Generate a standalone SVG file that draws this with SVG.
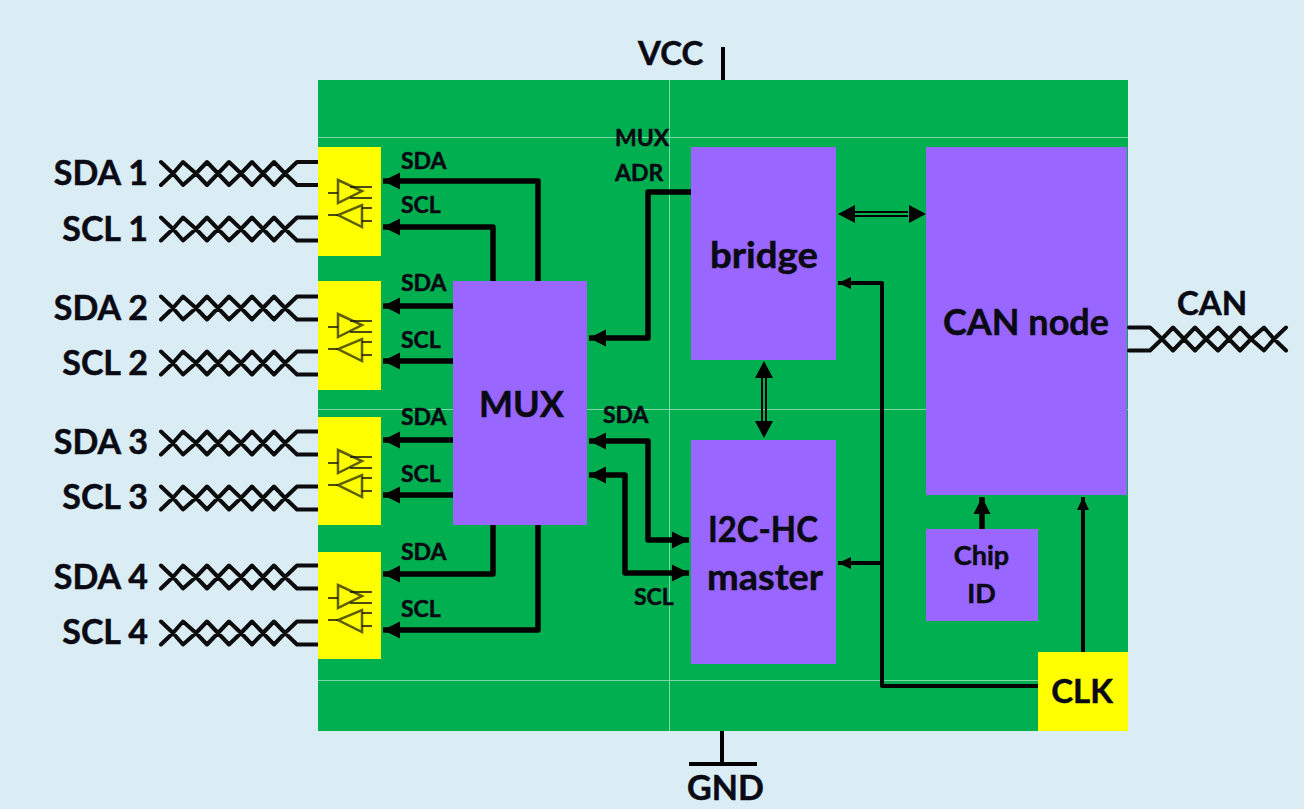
<svg xmlns="http://www.w3.org/2000/svg" xmlns:xlink="http://www.w3.org/1999/xlink" width="1304" height="809" viewBox="0 0 1304 809">
<style>
.t{font-family:"Lato","Liberation Sans",sans-serif;font-weight:700;fill:#0a0a14;stroke:#0a0a14;stroke-width:.5}
.l{font-size:34px;text-anchor:end}
.s{font-size:23px}
.b{font-size:36px;text-anchor:middle}
.w{fill:none;stroke:#000;stroke-width:5.500;stroke-linejoin:round}
.n{fill:none;stroke:#000;stroke-width:4;stroke-linejoin:round}
.tw{fill:none;stroke:#0c0c0c;stroke-width:4;stroke-linecap:round;stroke-linejoin:round}
.ic{fill:none;stroke:#5f5f00;stroke-width:2.500}
.il{fill:none;stroke:#111;stroke-width:1.500}
.p{fill:#9966ff}.y{fill:#ffff00}
.g{stroke:#7fd8a7;stroke-width:1;fill:none}
</style>
<defs>
<marker id="a" markerUnits="userSpaceOnUse" markerWidth="20" markerHeight="18" refX="18" refY="9" orient="auto-start-reverse"><path d="M1 0.500L18 9L1 17.500Z" fill="#000"/></marker>
<marker id="c" markerUnits="userSpaceOnUse" markerWidth="16" markerHeight="14" refX="14" refY="7" orient="auto-start-reverse"><path d="M1 1L14 7L1 13Z" fill="#000"/></marker>
<g id="pair"><path class="tw" d="M161 -11.500L173 0L183 -11.500L196 0L207 -11.500L218 0L229 -11.500L241 0L252 -11.500L263 0L274 -11.500L285 0L297 -11.500H318M161 11.500L173 0L183 11.500L196 0L207 11.500L218 0L229 11.500L241 0L252 11.500L263 0L274 11.500L285 0L297 11.500H318"/></g>
<g id="drv"><path class="ic" d="M338 180L362 191L338 203ZM362 205V227L338 215Z"/><path class="il" d="M328 193H338M350 187H372M350 198H372M328 215H338M362 208H372M362 221H372"/></g>
</defs>
<rect width="1304" height="809" fill="#daedf4"/>
<g id="board"><rect x="318" y="80" width="810" height="651" fill="#00b050"/><path class="g" d="M318 137.500H1128M318 409.500H1128M318 680.500H1128M669.500 80V731"/></g>
<g id="connectors">
<path class="n" stroke-width="5" d="M723 47V80M722 731V764M689 764H757"/>
<path class="w" marker-end="url(#a)" d="M538 281V181H383"/>
<path class="w" marker-end="url(#a)" d="M493 281V227H383"/>
<path class="w" marker-end="url(#a)" d="M453 306H383"/>
<path class="w" marker-end="url(#a)" d="M453 361H383"/>
<path class="w" marker-end="url(#a)" d="M453 440H383"/>
<path class="w" marker-end="url(#a)" d="M453 495H383"/>
<path class="w" marker-end="url(#a)" d="M493 525V574H383"/>
<path class="w" marker-end="url(#a)" d="M538 525V630H383"/>
<path class="w" marker-end="url(#a)" d="M691 192H648V338H589"/>
<path class="w" marker-start="url(#a)" marker-end="url(#a)" d="M589 441H648V540H689"/>
<path class="w" marker-start="url(#a)" marker-end="url(#a)" d="M589 475H625V573H689"/>
<path class="n" marker-end="url(#c)" d="M1038 686H882V283H838"/>
<path class="n" marker-end="url(#c)" d="M882 563H838"/>
<path class="n" marker-end="url(#c)" d="M1083 652V497"/>
<path class="w" marker-end="url(#a)" d="M982 529V497"/>
<path d="M855 212H908M855 216H908M762 378V422M766 378V422" fill="none" stroke="#000" stroke-width="2"/>
<path d="M838 214L855 205V223ZM926 214L909 205V223ZM764 361L755 378H773ZM764 438L755 421H773Z"/>
</g>
<g id="left-wires">
<use xlink:href="#pair" href="#pair" y="173.500"/><use xlink:href="#pair" href="#pair" y="229"/>
<use xlink:href="#pair" href="#pair" y="308"/><use xlink:href="#pair" href="#pair" y="363"/>
<use xlink:href="#pair" href="#pair" y="443"/><use xlink:href="#pair" href="#pair" y="498"/>
<use xlink:href="#pair" href="#pair" y="577"/><use xlink:href="#pair" href="#pair" y="633"/>
</g>
<g id="can-wire"><use xlink:href="#pair" href="#pair" transform="translate(1447 339) scale(-1 1)"/></g>
<g id="io1"><rect class="y" x="318" y="147" width="63" height="109"/><use xlink:href="#drv" href="#drv"/></g>
<g id="io2"><rect class="y" x="318" y="281" width="63" height="109"/><use xlink:href="#drv" href="#drv" y="134"/></g>
<g id="io3"><rect class="y" x="318" y="417" width="63" height="108"/><use xlink:href="#drv" href="#drv" y="270"/></g>
<g id="io4"><rect class="y" x="318" y="552" width="63" height="107"/><use xlink:href="#drv" href="#drv" y="405"/></g>
<g id="mux"><rect class="p" x="453" y="281" width="134" height="244"/><text class="t b" x="521.500" y="417">MUX</text></g>
<g id="bridge"><rect class="p" x="691" y="147" width="145" height="213"/><text class="t b" x="764" y="268" textLength="108" lengthAdjust="spacingAndGlyphs">bridge</text></g>
<g id="i2c"><rect class="p" x="691" y="440" width="145" height="224"/><text class="t b" x="763" y="542" textLength="110" lengthAdjust="spacingAndGlyphs">I2C-HC</text><text class="t b" x="765" y="590" textLength="116" lengthAdjust="spacingAndGlyphs">master</text></g>
<g id="can"><rect class="p" x="926" y="147" width="201" height="348"/><text class="t b" x="1026" y="335" textLength="166" lengthAdjust="spacingAndGlyphs">CAN node</text></g>
<g id="chip"><rect class="p" x="926" y="529" width="112" height="92"/><text class="t" x="981.500" y="565" font-size="27" text-anchor="middle">Chip</text><text class="t" x="981.500" y="603" font-size="27" text-anchor="middle">ID</text></g>
<g id="clk"><rect class="y" x="1038" y="652" width="90" height="79"/><text class="t" x="1082" y="703" font-size="33" text-anchor="middle">CLK</text></g>
<g id="labels">
<text class="t l" x="148" y="185">SDA 1</text><text class="t l" x="148" y="241">SCL 1</text>
<text class="t l" x="148" y="320">SDA 2</text><text class="t l" x="148" y="375">SCL 2</text>
<text class="t l" x="148" y="454">SDA 3</text><text class="t l" x="148" y="509">SCL 3</text>
<text class="t l" x="148" y="589">SDA 4</text><text class="t l" x="148" y="644">SCL 4</text>
<text class="t s" x="401" y="169">SDA</text><text class="t s" x="401" y="213">SCL</text>
<text class="t s" x="401" y="291">SDA</text><text class="t s" x="401" y="348">SCL</text>
<text class="t s" x="401" y="425">SDA</text><text class="t s" x="401" y="482">SCL</text>
<text class="t s" x="401" y="560">SDA</text><text class="t s" x="401" y="617">SCL</text>
<text class="t s" x="615" y="146">MUX</text><text class="t s" x="615" y="181">ADR</text>
<text class="t s" x="603" y="423">SDA</text><text class="t s" x="634" y="605">SCL</text>
<text class="t" x="638" y="65" font-size="33">VCC</text>
<text class="t" x="687" y="800" font-size="34">GND</text>
<text class="t" x="1177" y="315" font-size="33">CAN</text>
</g>
</svg>
